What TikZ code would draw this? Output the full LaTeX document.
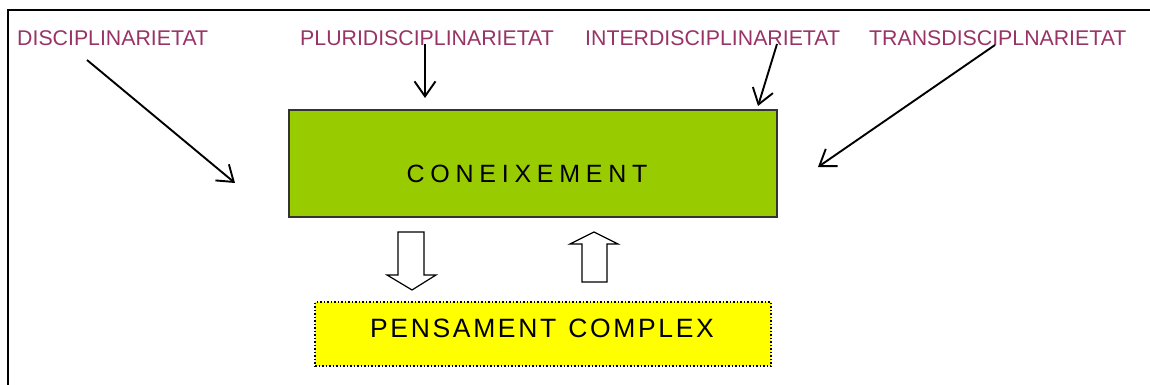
\documentclass[tikz,border=0pt]{standalone}
\usepackage{fontspec}
\setmainfont{Liberation Sans}
\usetikzlibrary{arrows.meta}
\definecolor{plum}{HTML}{993366}
\definecolor{leaf}{HTML}{99CC00}
\definecolor{lemon}{HTML}{FFFF00}
\newfontfamily\spacedwide[LetterSpace=23]{Liberation Sans}
\newfontfamily\spacednarrow[LetterSpace=10]{Liberation Sans}
\begin{document}
\begin{tikzpicture}[x=1pt,y=-1pt,
  label/.style={anchor=base west,inner sep=0pt,text=plum,font=\fontsize{21.3}{25}\selectfont},
  pointer/.style={line width=1.9pt,-{Straight Barb[length=15pt,width=21pt,line width=1.9pt]}},
  blockarrow/.style={draw=black,line width=1.2pt,fill=white,line join=miter},
  greenbox/.style={draw=black!80,line width=1.3pt,fill=leaf,minimum width=488pt,minimum height=107pt,inner sep=0pt},
  yellowbox/.style={draw=black,line width=1.5pt,dotted,fill=lemon,minimum width=456pt,minimum height=64pt,inner sep=0pt},
  boxtext/.style={inner sep=0pt,anchor=center}]
\useasboundingbox (0,0) rectangle (1150,385);

% outer frame (top and left edges)
\draw[line width=2.8pt] (8,390) -- (8,10) -- (1160,10);

% heading labels
\node[label] (disc)  at (17,46)  {DISCIPLINARIETAT};
\node[label] (pluri) at (300,46) {PLURIDISCIPLINARIETAT};
\node[label] (inter) at (585,46) {INTERDISCIPLINARIETAT};
\node[label] (trans) at (869,46) {TRANSDISCIPLNARIETAT};

% central boxes
\node[greenbox] (con) at (533,163.5) {};
\node[boxtext,font=\fontsize{25}{30}\spacedwide] (conText) at (527,174) {CONEIXEMENT};
\node[yellowbox] (pens) at (543,334) {};
\node[boxtext,font=\fontsize{26.5}{31}\spacednarrow] (pensText) at (542,328.5) {PENSAMENT\hspace{2pt} COMPLEX};

% pointer arrows from the labels
\coordinate (discFrom)  at (87,60);
\coordinate (discTo)    at (235,183);
\coordinate (pluriFrom) at (425,44);
\coordinate (pluriTo)   at (425,98);
\coordinate (interFrom) at (777,44);
\coordinate (interTo)   at (758,106);
\coordinate (transFrom) at (995,45);
\coordinate (transTo)   at (818,167);
\draw[pointer] (discFrom) -- (discTo);
\draw[pointer] (pluriFrom) -- (pluriTo);
\draw[pointer] (interFrom) -- (interTo);
\draw[pointer] (transFrom) -- (transTo);

% hollow block arrows between the boxes
\draw[blockarrow] (398,232) -- (424,232) -- (424,275) -- (436,275) -- (412,290)
  -- (387,275) -- (398,275) -- cycle;
\draw[blockarrow] (582,282) -- (607,282) -- (607,244) -- (618,244) -- (594,232)
  -- (570,244) -- (582,244) -- cycle;
\end{tikzpicture}
\end{document}
